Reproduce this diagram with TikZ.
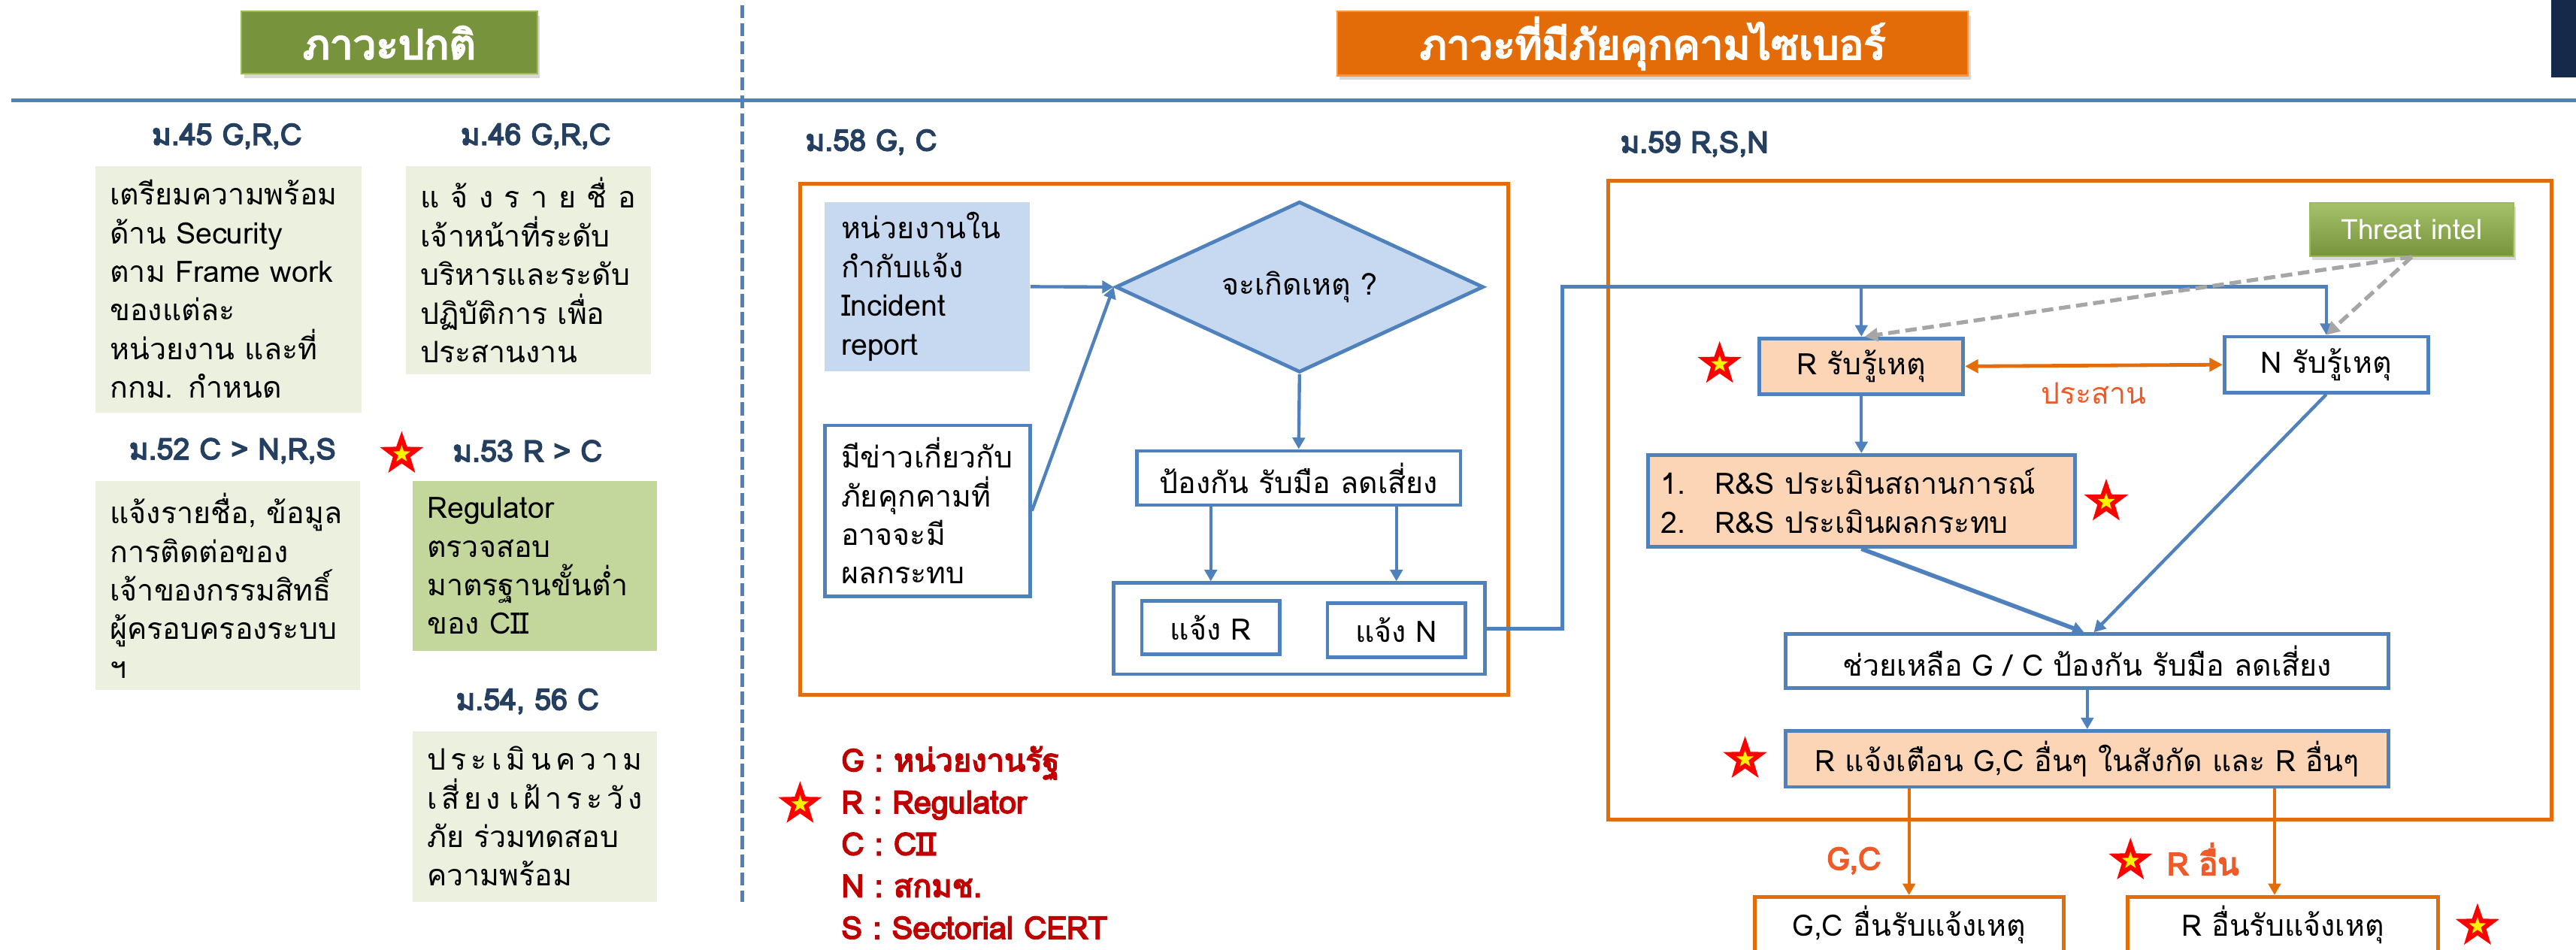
\documentclass[tikz,border=0pt]{standalone}
\usepackage{fontspec}
\setmainfont[Script=Thai]{Loma}
\newfontfamily\thaibold[Script=Thai, FakeBold=4]{Loma}
\usetikzlibrary{arrows.meta,shapes.geometric,shadows}
\definecolor{lblue}{HTML}{4F81BD}
\definecolor{oframe}{HTML}{E46C0A}
\definecolor{navy}{HTML}{243F60}
\definecolor{boxg}{HTML}{EBF1DE}
\definecolor{boxgg}{HTML}{C3D69B}
\definecolor{incfill}{HTML}{C6D9F0}
\definecolor{peach}{HTML}{FBD5B5}
\definecolor{hgreen}{HTML}{77933C}
\definecolor{hgreenb}{HTML}{9BBB59}
\definecolor{horange}{HTML}{E36C09}
\definecolor{horangeb}{HTML}{F79646}
\definecolor{legred}{HTML}{C00000}
\definecolor{ored}{HTML}{EE5A28}
\definecolor{dgray}{HTML}{A6A6A6}
\definecolor{navyR}{HTML}{17294A}
\newcommand{\redstar}[2]{%
  \node[star, star points=5, star point ratio=2.5, fill=red, inner sep=0pt, minimum size=28pt] (#1) at (#2) {};
  \node[star, star points=5, star point ratio=2.5, fill=yellow, inner sep=0pt, minimum size=11pt] (#1y) at (#1.center) {};}
\begin{document}
\lineskiplimit=-30pt\relax
\begin{tikzpicture}[x=1pt,y=-1pt,
  hd/.style={font=\fontsize{18}{20}\thaibold\selectfont, text=navy, inner sep=0pt},
  body/.style={font=\fontsize{18}{23.5}\selectfont, align=left, inner sep=0pt, text=black},
  lbox/.style={body, fill=boxg},
  bluebox/.style={draw=lblue, line width=2.2pt, fill=white, inner sep=0pt, font=\fontsize{18}{22}\selectfont},
  ofr/.style={draw=oframe, line width=2.2pt, inner sep=0pt},
  arr/.style={draw=lblue, line width=2pt, -{Triangle[length=7pt,width=7.5pt]}},
  oarr/.style={draw=oframe, line width=2pt, -{Triangle[length=7pt,width=7.5pt]}},
  garr/.style={draw=dgray, line width=2.4pt, dash pattern=on 7pt off 3.5pt, -{Triangle[length=8pt,width=8pt]}},
  header/.style={text=white, font=\fontsize{25}{26}\thaibold\selectfont, inner sep=0pt, line width=1pt,
    drop shadow={shadow xshift=1.5pt, shadow yshift=-2.5pt, opacity=0.3}}]
\useasboundingbox (0,0) rectangle (1568,578);
\clip (0,0) rectangle (1568,578);
\fill[white] (0,0) rectangle (1568,578);

% headers
\node[header, fill=hgreen, draw=hgreenb, minimum width=180pt, minimum height=38pt] (hN) at (237,26) {ภาวะปกติ};
\node[header, fill=horange, draw=horangeb, minimum width=384pt, minimum height=39pt] (hC) at (1006,26.5) {ภาวะที่มีภัยคุกคามไซเบอร์};
\fill[navyR] (1553,0) rectangle (1568,47);
\draw[lblue, line width=2.4pt] (7,61) -- (1568,61);
\draw[lblue, line width=2.3pt, dash pattern=on 8pt off 3pt] (452,3) -- (452,549);

% left section
\node[hd] (h45) at (138,83) {ม.45 G,R,C};
\node[hd] (h46) at (326,83) {ม.46 G,R,C};
\node[hd] (h52) at (141.5,274.5) {ม.52 C > N,R,S};
\node[hd] (h53) at (321,274.5) {ม.53 R > C};
\node[hd] (h54) at (321,427) {ม.54, 56 C};
\redstar{s53}{244.5,276.5}

\node[lbox, minimum width=162pt, minimum height=150pt, text width=144pt] (b45) at (139,176)
 {เตรียมความพร้อม\\ด้าน Security\\ตาม Frame work\\ของแต่ละ\\หน่วยงาน และที่\\กกม. กำหนด};
\node[lbox, minimum width=149pt, minimum height=127pt, text width=131pt] (b46) at (321.5,164.5)
 {\makebox[\linewidth][s]{แ\hfill จ้\hfill ง\hfill ร\hfill า\hfill ย\hfill ชื่\hfill อ}\\\makebox[\linewidth][s]{เจ้าหน้าที่ระดับ}\\\makebox[\linewidth][s]{บริหารและระดับ}\\\makebox[\linewidth][s]{ปฏิบัติการ เพื่อ}\\ประสานงาน};
\node[lbox, minimum width=161pt, minimum height=127pt, text width=143pt] (b52) at (138.5,356.5)
 {แจ้งรายชื่อ, ข้อมูล\\การติดต่อของ\\เจ้าของกรรมสิทธิ์\\ผู้ครอบครองระบบ\\ฯ};
\node[lbox, fill=boxgg, minimum width=149pt, minimum height=103pt, text width=131pt] (b53) at (325.5,344.5)
 {Regulator\\ตรวจสอบ\\มาตรฐานขั้นต่ำ\\ของ CII};
\node[lbox, minimum width=149pt, minimum height=104pt, text width=131pt] (b54) at (325.5,497)
 {\makebox[\linewidth][s]{ป\hfill ร\hfill ะ\hfill เ\hfill มิ\hfill น\hfill ค\hfill ว\hfill า\hfill ม}\\\makebox[\linewidth][s]{เ\hfill สี่\hfill ย\hfill ง\hfill\hfill เ\hfill ฝ้\hfill า\hfill ร\hfill ะ\hfill วั\hfill ง}\\\makebox[\linewidth][s]{ภัย ร่วมทดสอบ}\\ความพร้อม};

% middle section
\node[hd, anchor=west] (h58) at (490,86.6) {ม.58 G, C};
\node[ofr, minimum width=431pt, minimum height=311pt] (f58) at (702.5,267.5) {};
\node[body, fill=incfill, minimum width=125pt, minimum height=103pt, text width=105pt] (inc) at (564.5,174.5)
 {หน่วยงานใน\\กำกับแจ้ง\\Incident\\report};
\node[body, draw=lblue, line width=2.2pt, fill=white, minimum width=125pt, minimum height=104pt, text width=105pt] (news) at (564.5,311)
 {มีข่าวเกี่ยวกับ\\ภัยคุกคามที่\\อาจจะมี\\ผลกระทบ};
\node[diamond, aspect=2.15, draw=lblue, line width=2.2pt, fill=incfill, minimum width=224pt, minimum height=104pt, inner sep=0pt, font=\fontsize{18}{22}\selectfont] (dia) at (791,174.7) {จะเกิดเหตุ ?};
\node[bluebox, minimum width=197pt, minimum height=33pt] (prot) at (790.5,291) {ป้องกัน รับมือ ลดเสี่ยง};
\node[bluebox, minimum width=226pt, minimum height=55.5pt] (outer) at (791,382.7) {};
\node[bluebox, minimum width=84pt, minimum height=32.5pt] (nR) at (737,382) {แจ้ง R};
\node[bluebox, minimum width=84pt, minimum height=33pt] (nN) at (850,383.5) {แจ้ง N};

\draw[arr] (inc.east) -- (dia.west);
\draw[arr] (news.east) -- (dia.west);
\draw[arr] (dia.south) -- (prot.north);
\draw[arr] (prot.south -| nR) -- (outer.north -| nR);
\draw[arr] (prot.south -| nN) -- (outer.north -| nN);

% legend
\node[anchor=west, text=legred, font=\fontsize{19}{25.5}\thaibold\selectfont, align=left, inner sep=0pt] (leg) at (512,513)
 {G : หน่วยงานรัฐ\\R : Regulator\\C : CII\\N : สกมช.\\S : Sectorial CERT};
\redstar{sleg}{487,489.6}

% right section
\node[hd, anchor=west] (h59) at (986,87.7) {ม.59 R,S,N};
\node[ofr, minimum width=574pt, minimum height=389pt] (f59) at (1266,304.5) {};
\node[text=white, font=\fontsize{17}{20}\selectfont, inner sep=0pt, minimum width=124pt, minimum height=32.5pt,
  top color=hgreenb!90!white, bottom color=hgreen, draw=hgreenb, line width=0.8pt,
  drop shadow={shadow xshift=1.5pt, shadow yshift=-2.5pt, opacity=0.3}] (ti) at (1468,139.75) {Threat intel};
\node[bluebox, fill=peach, minimum width=124pt, minimum height=34pt] (rR) at (1133,223) {R รับรู้เหตุ};
\node[bluebox, minimum width=124pt, minimum height=34pt] (rN) at (1416,222) {N รับรู้เหตุ};
\node[bluebox, fill=peach, minimum width=260pt, minimum height=56pt, text width=244pt, align=left, font=\fontsize{18}{24}\selectfont] (rRS) at (1133,305)
 {\makebox[33pt][l]{1.}R\&S ประเมินสถานการณ์\\\makebox[33pt][l]{2.}R\&S ประเมินผลกระทบ};
\node[bluebox, minimum width=367pt, minimum height=33pt] (rHelp) at (1270.5,402.5) {ช่วยเหลือ G / C ป้องกัน รับมือ ลดเสี่ยง};
\node[bluebox, fill=peach, minimum width=367pt, minimum height=34pt] (rWarn) at (1270.5,462) {R แจ้งเตือน G,C อื่นๆ ในสังกัด และ R อื่นๆ};
\node[ofr, fill=white, minimum width=188pt, minimum height=34pt, font=\fontsize{18}{22}\selectfont] (oGC) at (1162,563) {G,C อื่นรับแจ้งเหตุ};
\node[ofr, fill=white, minimum width=189pt, minimum height=34pt, font=\fontsize{18}{22}\selectfont] (oR) at (1389.5,563) {R อื่นรับแจ้งเหตุ};

\coordinate (bus) at (951,174.6);
\draw[arr] (outer.east) -| (bus) -| (rN.north);
\draw[arr] (bus -| rR.north) -- (rR.north);
\draw[garr] (ti.south) -- ([xshift=2pt]rR.north);
\draw[garr] (ti.south) -- (rN.north);
\draw[draw=oframe, line width=2.2pt, {Triangle[length=8pt,width=8pt]}-{Triangle[length=8pt,width=8pt]}] (rR.east) -- (rN.west);
\node[text=ored, font=\fontsize{18}{20}\selectfont, inner sep=0pt] (coop) at (1274.4,239.7) {ประสาน};
\draw[arr] (rR.south) -- (rRS.north);
\draw[arr, line width=2.6pt] (rRS.south) -- ([xshift=-2pt]rHelp.north);
\draw[arr] (rN.south) -- ([xshift=4pt]rHelp.north);
\draw[arr] (rHelp.south) -- (rWarn.north);
\draw[oarr] (rWarn.south -| oGC.north) -- (oGC.north);
\draw[oarr] ([xshift=-5pt]rWarn.south -| oR.north) -- ([xshift=-5pt]oR.north);
\node[text=ored, font=\fontsize{19}{20}\thaibold\selectfont, inner sep=0pt] (lgc) at (1128.4,524) {G,C};
\node[text=ored, font=\fontsize{19}{20}\thaibold\selectfont, inner sep=0pt] (lro) at (1341,523) {R อื่น};

\redstar{sR}{1046.7,221.7}
\redstar{sRS}{1282,305.5}
\redstar{sW}{1062.2,462.2}
\redstar{sRo}{1296.8,524}
\redstar{sOR}{1508,563.8}
\end{tikzpicture}
\end{document}
